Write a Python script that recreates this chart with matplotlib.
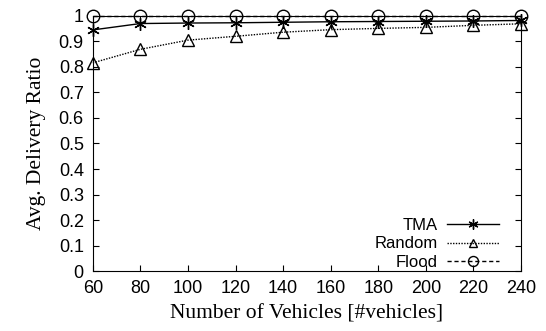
import numpy as np
import matplotlib.pyplot as plt
from matplotlib.ticker import FuncFormatter

veiculos = [60, 80, 100, 120, 140, 160, 180, 200, 220, 240]
tma = [0.945, 0.970, 0.972, 0.973, 0.975, 0.977, 0.978, 0.979, 0.980, 0.982]
random_ = [0.816, 0.869, 0.905, 0.920, 0.936, 0.946, 0.951, 0.955, 0.963, 0.969]
flood = [1.0, 1.0, 1.0, 1.0, 1.0, 1.0, 1.0, 1.0, 1.0, 1.0]

plt.rcParams['font.family'] = ['Liberation Sans', 'DejaVu Sans']

fig = plt.figure(figsize=(5.46, 3.31), dpi=100)
ax = fig.add_axes([0.170, 0.181, 0.784, 0.771])

ax.plot(veiculos, tma, '-', color='black', linewidth=1.0, marker=(6, 2, 0),
        markersize=9, markeredgewidth=1.0, label='TMA', clip_on=False, zorder=3)
ax.plot(veiculos, random_, linestyle=(0, (1, 1)), color='black', linewidth=1.0,
        marker='^', markersize=8, markerfacecolor='none', markeredgewidth=1.0,
        label='Random', clip_on=False, zorder=3)
ax.plot(veiculos, flood, linestyle=(0, (3, 2)), color='black', linewidth=1.0,
        marker='o', markersize=9, markerfacecolor='none', markeredgewidth=1.0,
        label='Flood', clip_on=False, zorder=4)

ax.set_xlim(60, 240)
ax.set_ylim(0, 1)
ax.set_xticks(np.arange(60, 241, 20))
ax.set_yticks(np.arange(0, 1.01, 0.1))
ax.yaxis.set_major_formatter(FuncFormatter(lambda v, p: f'{v:.1f}'.rstrip('0').rstrip('.') if v else '0'))
ax.tick_params(direction='in', top=True, right=True, length=4, labelsize=13, width=0.8, pad=6.5)

ax.set_xlabel('Number of Vehicles [#vehicles]', family='Liberation Serif', fontsize=15.5, labelpad=5)
ax.set_ylabel('Avg. Delivery Ratio', family='Liberation Serif', fontsize=15.5, labelpad=9)

ax.legend(loc='lower right', bbox_to_anchor=(0.949, 0.004), frameon=False, markerfirst=False,
          fontsize=12, handlelength=3.1, labelspacing=0.22, borderpad=0, borderaxespad=0,
          handletextpad=0.6, markerscale=0.8)

fig.savefig('out.png', dpi=100)
